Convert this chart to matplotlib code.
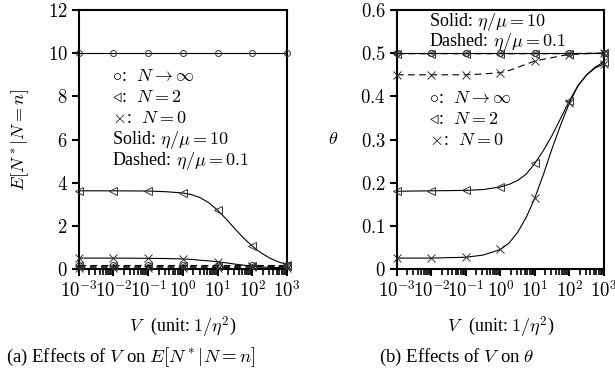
import numpy as np
import matplotlib
matplotlib.use('Agg')
import matplotlib.pyplot as plt
from matplotlib.ticker import LogLocator, NullFormatter

plt.rcParams['font.family'] = ['Liberation Serif', 'DejaVu Serif']
plt.rcParams['mathtext.fontset'] = 'cm'

# marker positions (decades of V)
V_mk = [1e-3, 1e-2, 1e-1, 1e0, 1e1, 1e2, 1e3]
# curve samples, finer on the steep part
V_ln = [1e-3, 1e-2, 1e-1, 10**-0.5, 1e0, 10**0.25, 10**0.5, 10**0.75, 1e1, 10**1.25, 10**1.5,
        10**1.75, 1e2, 10**2.25, 10**2.5, 10**2.75, 1e3]

# (a) E[N*|N=n]
EN_inf_solid = [10] * 17
EN_2_solid = [3.62, 3.62, 3.61, 3.58, 3.52, 3.44, 3.3, 3.06, 2.72, 2.3, 1.85, 1.42, 1.05, 0.74, 0.5, 0.32, 0.2]
EN_0_solid = [0.5, 0.5, 0.49, 0.48, 0.46, 0.44, 0.4, 0.37, 0.33, 0.28, 0.22, 0.17, 0.12, 0.09, 0.07, 0.06, 0.05]
EN_inf_dash = [0.2] * 17
EN_2_dash = [0.12, 0.12, 0.12, 0.12, 0.12, 0.12, 0.12, 0.12, 0.12, 0.12, 0.12, 0.125, 0.13, 0.135, 0.14, 0.145, 0.15]
EN_0_dash = [0.05, 0.05, 0.05, 0.05, 0.05, 0.05, 0.05, 0.055, 0.06, 0.065, 0.07, 0.075, 0.08, 0.09, 0.1, 0.11, 0.12]

# (b) theta
th_inf_solid = [0.5] * 17
th_2_solid = [0.18, 0.181, 0.182, 0.184, 0.19, 0.196, 0.205, 0.22, 0.245, 0.275, 0.31, 0.35, 0.39, 0.425, 0.45, 0.468, 0.48]
th_0_solid = [0.025, 0.025, 0.027, 0.032, 0.045, 0.06, 0.085, 0.12, 0.165, 0.22, 0.28, 0.335, 0.385, 0.425, 0.45, 0.466, 0.475]
th_inf_dash = [0.5] * 17
th_2_dash = [0.499] * 14 + [0.5, 0.5, 0.5]
th_0_dash = [0.45, 0.45, 0.45, 0.452, 0.455, 0.46, 0.467, 0.475, 0.482, 0.486, 0.49, 0.494, 0.497, 0.498, 0.499, 0.5, 0.5]

mk_idx = [V_ln.index(v) for v in V_mk]

fig = plt.figure(figsize=(6.15, 3.75), dpi=100)
axa = fig.add_axes([0.128, 0.283, 0.339, 0.69])
axb = fig.add_axes([0.6455, 0.283, 0.3365, 0.69])

ec = '#333333'
msize = {'o': 4.3, '<': 5.5, 'x': 5.5}


def draw(ax, y, marker, ls):
    if ls == '--':
        ax.plot(V_ln, y, color='black', lw=0.8, dashes=(6, 4))
    else:
        ax.plot(V_ln, y, color='black', lw=0.8)
    ax.plot([V_ln[i] for i in mk_idx], [y[i] for i in mk_idx], ls='none', marker=marker,
            ms=msize[marker], mfc='none', mec=ec, mew=0.7, clip_on=False, zorder=5)


for y, m in [(EN_inf_solid, 'o'), (EN_2_solid, '<'), (EN_0_solid, 'x')]:
    draw(axa, y, m, '-')
for y, m in [(EN_inf_dash, 'o'), (EN_2_dash, '<'), (EN_0_dash, 'x')]:
    draw(axa, y, m, '--')
for y, m in [(th_inf_solid, 'o'), (th_2_solid, '<'), (th_0_solid, 'x')]:
    draw(axb, y, m, '-')
for y, m in [(th_inf_dash, 'o'), (th_2_dash, '<'), (th_0_dash, 'x')]:
    draw(axb, y, m, '--')

xt = [1e-3, 1e-2, 1e-1, 1e0, 1e1, 1e2, 1e3]
xtl = ['$10^{-3}$', '$10^{-2}$', '$10^{-1}$', '$10^{0}$', '$10^{1}$', '$10^{2}$', '$10^{3}$']
tfs = 13.5
lfs = 13

for ax in (axa, axb):
    ax.set_xscale('log')
    ax.set_xlim(1e-3, 1e3)
    ax.set_xticks(xt)
    ax.set_xticklabels(xtl, fontsize=tfs)
    ax.xaxis.set_minor_locator(LogLocator(base=10, subs=np.arange(2, 10), numticks=20))
    ax.xaxis.set_minor_formatter(NullFormatter())
    for s in ax.spines.values():
        s.set_linewidth(1.5)
    ax.tick_params(which='major', direction='out', length=5, width=1.5, top=False, right=False, pad=3)
    ax.tick_params(which='minor', direction='out', length=4, width=1.2, top=False, right=False)
    ax.set_xlabel('$V\\ \\ $(unit: $1/\\eta^2$)', fontsize=lfs, labelpad=10)

axa.set_ylim(0, 12)
axa.set_yticks([0, 2, 4, 6, 8, 10, 12])
axa.set_yticklabels(['$%d$' % v for v in [0, 2, 4, 6, 8, 10, 12]], fontsize=tfs)
axa.set_ylabel('$E[N^*|N=n]$', fontsize=lfs, labelpad=12)

axb.set_ylim(0, 0.6)
axb.set_yticks([0, 0.1, 0.2, 0.3, 0.4, 0.5, 0.6])
axb.set_yticklabels(['$0$', '$0.1$', '$0.2$', '$0.3$', '$0.4$', '$0.5$', '$0.6$'], fontsize=tfs)
axb.set_ylabel('$\\theta$', fontsize=lfs, rotation=0, labelpad=20, va='center')

keys = ['$\\circ$:$\\ \\ N\\rightarrow\\infty$', '$\\triangleleft$:$\\ \\ N=2$', '$\\times$:$\\ \\ N=0$']
notes = ['Solid:$\\ \\eta/\\mu=10$', 'Dashed:$\\ \\eta/\\mu=0.1$']

for i, s in enumerate(keys + notes):
    axa.text(0.16, 0.745 - i * 0.082, s, transform=axa.transAxes, fontsize=lfs, va='center')

for i, s in enumerate(notes):
    axb.text(0.155, 0.955 - i * 0.078, s, transform=axb.transAxes, fontsize=lfs, va='center')
for i, s in enumerate(keys):
    axb.text(0.155, 0.66 - i * 0.082, s, transform=axb.transAxes, fontsize=lfs, va='center')

fig.text(0.212, 0.048, '(a) Effects of $V\\ $on $E[N^*|N=n]$', fontsize=13.5, ha='center', va='center')
fig.text(0.743, 0.048, '(b) Effects of $V\\ $on $\\theta$', fontsize=13.5, ha='center', va='center')

fig.savefig('out.png', dpi=100)
